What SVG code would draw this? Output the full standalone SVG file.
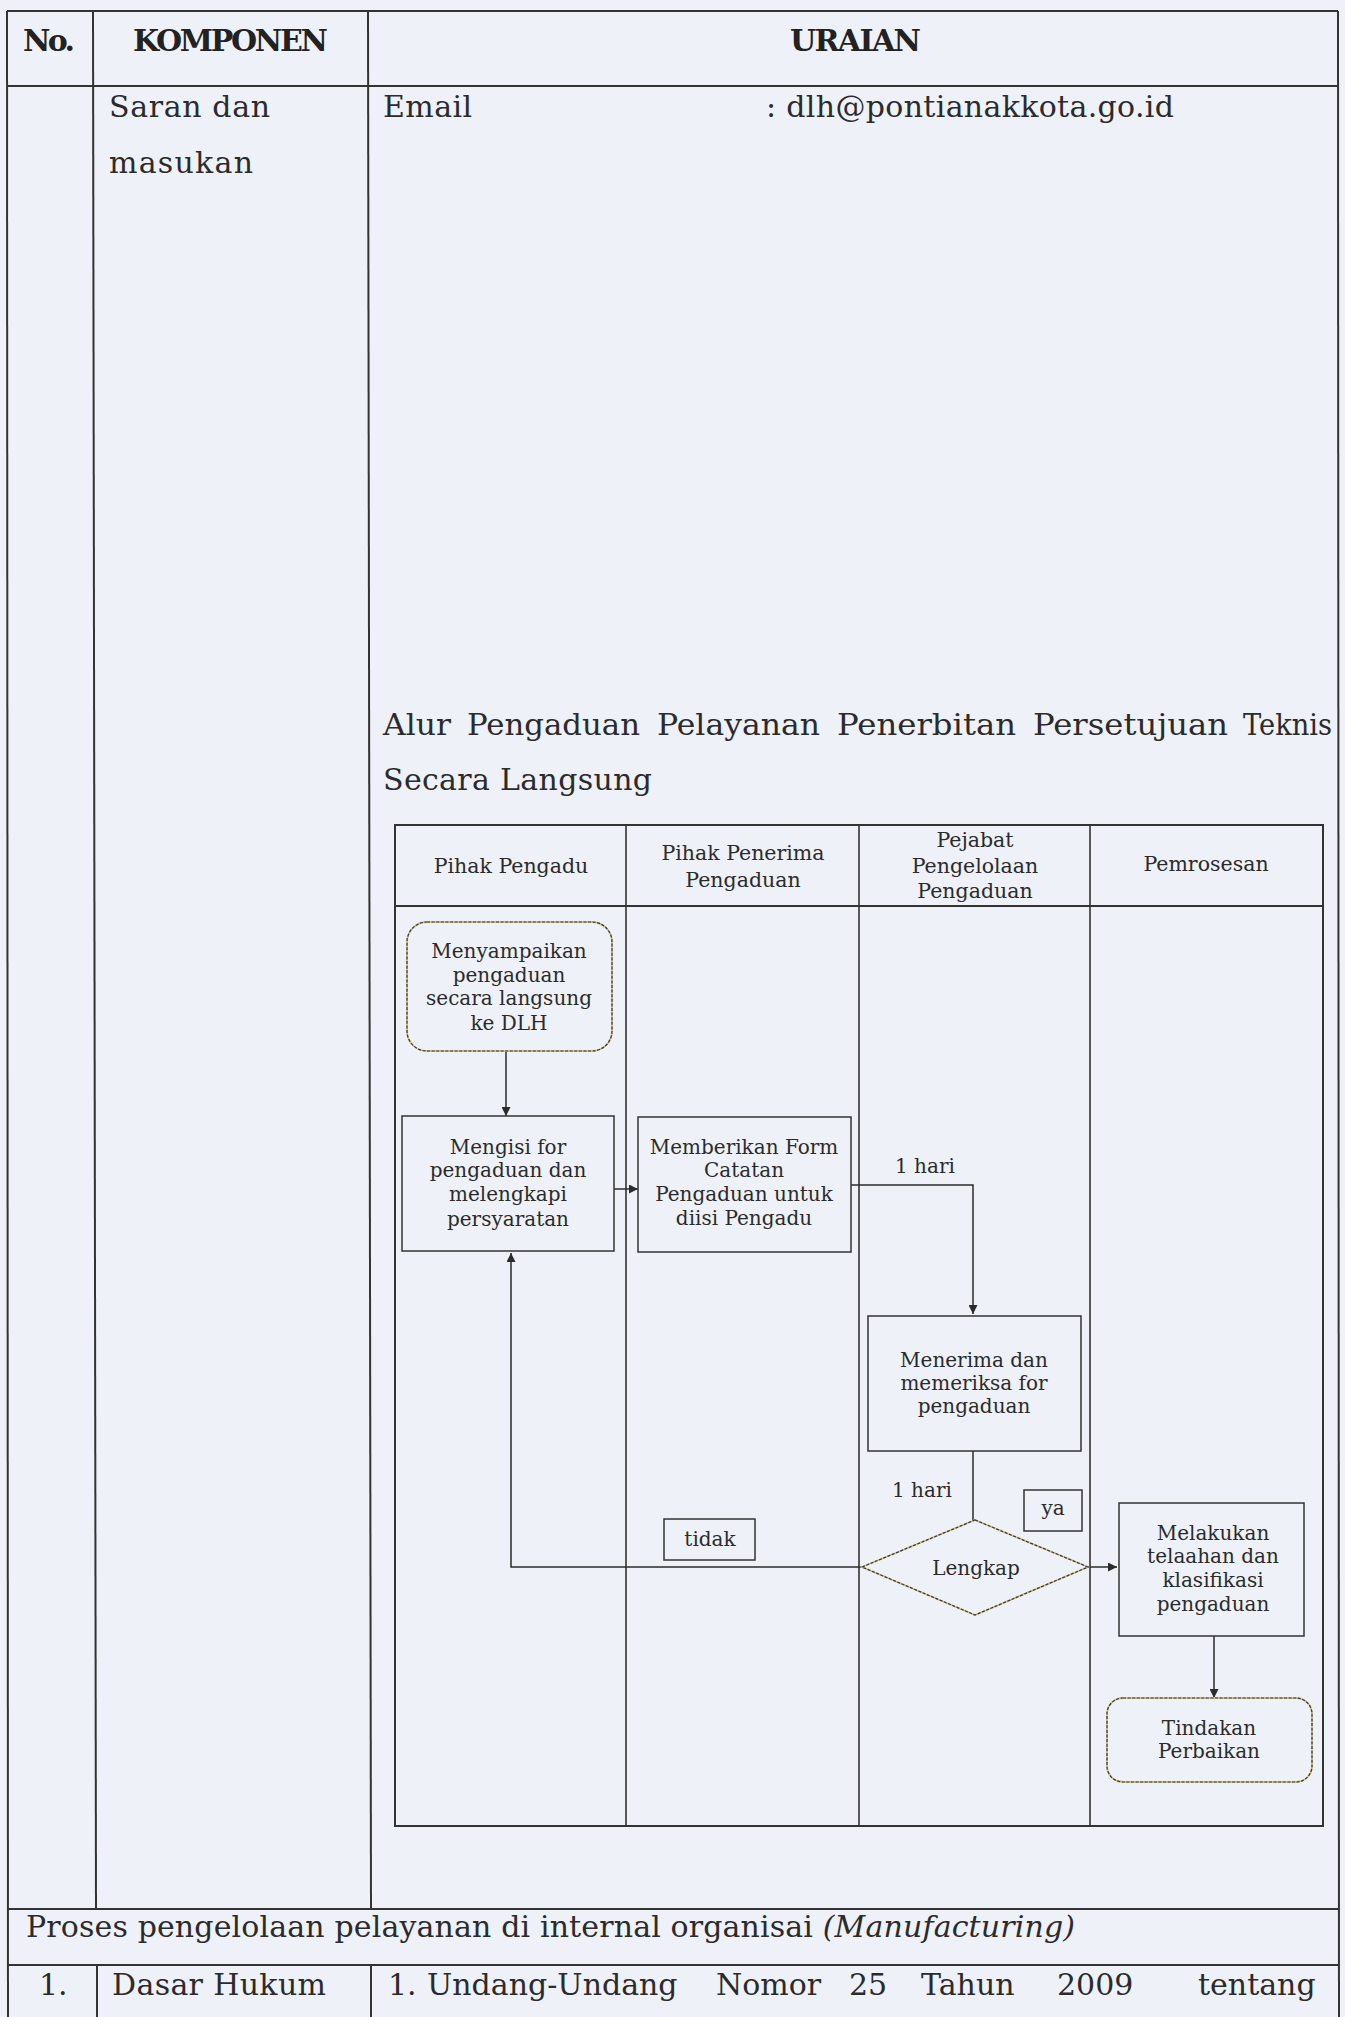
<svg xmlns="http://www.w3.org/2000/svg" width="1345" height="2017" viewBox="0 0 1345 2017">
  <defs>
    <marker id="arrow" viewBox="0 0 10 10" refX="10" refY="5" markerWidth="9" markerHeight="9" markerUnits="userSpaceOnUse" orient="auto">
      <path d="M0,0 L10,5 L0,10 z" fill="#2b2b2b"/>
    </marker>
    <style>
      .page { fill: #eef1f7; }
      .grid { stroke: #333; stroke-width: 2; fill: none; }
      .lane { stroke: #333; stroke-width: 1.6; fill: none; }
      .box { fill: none; stroke: #333; stroke-width: 1.5; }
      .soft-under { fill: none; stroke: #cdbd82; stroke-width: 1.8; }
      .soft-over { fill: none; stroke: #3a3a3a; stroke-width: 1.2; stroke-dasharray: 3 1.6; }
      .conn { fill: none; stroke: #2b2b2b; stroke-width: 1.5; }
      .head { font-family: "DejaVu Serif", "Liberation Serif", serif; font-weight: bold; font-size: 30px; fill: #222; }
      .body { font-family: "DejaVu Serif", "Liberation Serif", serif; font-size: 30px; fill: #2b2b2b; }
      .title-word { font-size: 29px; }
      .fc { font-family: "DejaVu Serif", "Liberation Serif", serif; font-size: 20px; fill: #2b2b2b; text-anchor: middle; }
      .lane-title { font-size: 20.5px; }
      .lbl { font-family: "DejaVu Serif", "Liberation Serif", serif; font-size: 20px; fill: #2b2b2b; }
    </style>
  </defs>

  <rect class="page" x="0" y="0" width="1345" height="2017"/>

  <!-- outer table grid -->
  <g id="table-grid">
    <line class="grid" x1="7" y1="11" x2="1338" y2="11"/>
    <line class="grid" x1="7" y1="86" x2="1338" y2="86"/>
    <line class="grid" x1="7" y1="1909" x2="1338" y2="1909"/>
    <line class="grid" x1="7" y1="1965" x2="1338" y2="1965"/>
    <line class="grid" x1="7" y1="11" x2="8" y2="2017"/>
    <line class="grid" x1="1338" y1="11" x2="1339" y2="2017"/>
    <line class="grid" x1="93" y1="11" x2="96" y2="1909"/>
    <line class="grid" x1="368" y1="11" x2="371" y2="1909"/>
    <line class="grid" x1="97" y1="1965" x2="97" y2="2017"/>
    <line class="grid" x1="371" y1="1965" x2="371" y2="2017"/>
  </g>

  <!-- header row -->
  <g id="header">
    <text class="head" x="23" y="51" textLength="52">No.</text>
    <text class="head" x="133" y="51" textLength="195">KOMPONEN</text>
    <text class="head" x="790" y="51" textLength="131">URAIAN</text>
  </g>

  <!-- row: Saran dan masukan -->
  <g id="row-saran">
    <text class="body" x="109" y="117" textLength="161">Saran dan</text>
    <text class="body" x="109" y="173" textLength="144">masukan</text>
    <text class="body" x="383" y="117" textLength="89">Email</text>
    <text class="body" x="766" y="117" textLength="408">: dlh@pontianakkota.go.id</text>
    <!-- justified title line, one word per run -->
    <text class="body title-word" x="383" y="735" textLength="68" lengthAdjust="spacingAndGlyphs">Alur</text>
    <text class="body title-word" x="467" y="735" textLength="173" lengthAdjust="spacingAndGlyphs">Pengaduan</text>
    <text class="body title-word" x="657" y="735" textLength="163" lengthAdjust="spacingAndGlyphs">Pelayanan</text>
    <text class="body title-word" x="837" y="735" textLength="179" lengthAdjust="spacingAndGlyphs">Penerbitan</text>
    <text class="body title-word" x="1033" y="735" textLength="195" lengthAdjust="spacingAndGlyphs">Persetujuan</text>
    <text class="body title-word" x="1243" y="735" textLength="89" lengthAdjust="spacingAndGlyphs">Teknis</text>
    <text class="body" x="383" y="790" textLength="269">Secara Langsung</text>
  </g>

  <!-- swimlane frame -->
  <g id="swimlanes">
    <rect class="grid" x="395" y="825" width="928" height="1001"/>
    <line class="grid" x1="395" y1="906" x2="1323" y2="906"/>
    <line class="lane" x1="626" y1="825" x2="626" y2="1826"/>
    <line class="lane" x1="859" y1="825" x2="859" y2="1826"/>
    <line class="lane" x1="1090" y1="825" x2="1090" y2="1826"/>
    <text class="fc lane-title" x="511" y="873">Pihak Pengadu</text>
    <text class="fc lane-title" x="743" y="860">Pihak Penerima</text>
    <text class="fc lane-title" x="743" y="887">Pengaduan</text>
    <text class="fc lane-title" x="975" y="847">Pejabat</text>
    <text class="fc lane-title" x="975" y="873">Pengelolaan</text>
    <text class="fc lane-title" x="975" y="898">Pengaduan</text>
    <text class="fc lane-title" x="1206" y="871">Pemrosesan</text>
  </g>

  <!-- connectors -->
  <g id="connectors">
    <line class="conn" x1="506" y1="1051" x2="506" y2="1116" marker-end="url(#arrow)"/>
    <line class="conn" x1="614" y1="1189" x2="638" y2="1189" marker-end="url(#arrow)"/>
    <path class="conn" d="M851,1185 H973 V1314" marker-end="url(#arrow)"/>
    <line class="conn" x1="973" y1="1451" x2="973" y2="1520"/>
    <line class="conn" x1="1088" y1="1567" x2="1117" y2="1567" marker-end="url(#arrow)"/>
    <path class="conn" d="M862,1567 H511 V1253" marker-end="url(#arrow)"/>
    <line class="conn" x1="1214" y1="1636" x2="1214" y2="1698" marker-end="url(#arrow)"/>
    <text class="lbl" x="895" y="1173">1 hari</text>
    <text class="lbl" x="892" y="1497">1 hari</text>
  </g>

  <!-- nodes -->
  <g id="start-menyampaikan">
    <rect class="soft-under" x="407" y="922" width="205" height="129" rx="20"/>
    <rect class="soft-over" x="407" y="922" width="205" height="129" rx="20"/>
    <text class="fc" x="509" y="958">Menyampaikan</text>
    <text class="fc" x="509" y="982">pengaduan</text>
    <text class="fc" x="509" y="1005">secara langsung</text>
    <text class="fc" x="509" y="1030">ke DLH</text>
  </g>

  <g id="mengisi">
    <rect class="box" x="402" y="1116" width="212" height="135"/>
    <text class="fc" x="508" y="1154">Mengisi for</text>
    <text class="fc" x="508" y="1177">pengaduan dan</text>
    <text class="fc" x="508" y="1201">melengkapi</text>
    <text class="fc" x="508" y="1226">persyaratan</text>
  </g>

  <g id="memberikan">
    <rect class="box" x="638" y="1117" width="213" height="135"/>
    <text class="fc" x="744" y="1154">Memberikan Form</text>
    <text class="fc" x="744" y="1177">Catatan</text>
    <text class="fc" x="744" y="1201">Pengaduan untuk</text>
    <text class="fc" x="744" y="1225">diisi Pengadu</text>
  </g>

  <g id="menerima">
    <rect class="box" x="868" y="1316" width="213" height="135"/>
    <text class="fc" x="974" y="1367">Menerima dan</text>
    <text class="fc" x="974" y="1390">memeriksa for</text>
    <text class="fc" x="974" y="1413">pengaduan</text>
  </g>

  <g id="lengkap">
    <polygon class="soft-under" points="975,1520 1088,1567 975,1615 862,1567"/>
    <polygon class="soft-over" points="975,1520 1088,1567 975,1615 862,1567"/>
    <text class="fc" x="976" y="1575">Lengkap</text>
  </g>

  <g id="label-ya">
    <rect class="box" x="1024" y="1490" width="58" height="41"/>
    <text class="fc" x="1053" y="1515">ya</text>
  </g>

  <g id="label-tidak">
    <rect class="box" x="664" y="1519" width="91" height="41"/>
    <text class="fc" x="710" y="1546">tidak</text>
  </g>

  <g id="melakukan">
    <rect class="box" x="1119" y="1503" width="185" height="133"/>
    <text class="fc" x="1213" y="1540">Melakukan</text>
    <text class="fc" x="1213" y="1563">telaahan dan</text>
    <text class="fc" x="1213" y="1587">klasifikasi</text>
    <text class="fc" x="1213" y="1611">pengaduan</text>
  </g>

  <g id="end-tindakan">
    <rect class="soft-under" x="1107" y="1698" width="205" height="84" rx="16"/>
    <rect class="soft-over" x="1107" y="1698" width="205" height="84" rx="16"/>
    <text class="fc" x="1209" y="1735">Tindakan</text>
    <text class="fc" x="1209" y="1758">Perbaikan</text>
  </g>

  <!-- section row and next row -->
  <g id="row-proses">
    <text class="body" x="26" y="1937" textLength="1049">Proses pengelolaan pelayanan di internal organisai <tspan font-style="italic">(Manufacturing)</tspan></text>
  </g>

  <g id="row-dasar-hukum">
    <text class="body" x="39" y="1995">1.</text>
    <text class="body" x="112" y="1995" textLength="214">Dasar Hukum</text>
    <text class="body" y="1995">
      <tspan x="388">1.</tspan>
      <tspan x="427">Undang-Undang</tspan>
      <tspan x="716">Nomor</tspan>
      <tspan x="849">25</tspan>
      <tspan x="921">Tahun</tspan>
      <tspan x="1057">2009</tspan>
      <tspan x="1198">tentang</tspan>
    </text>
  </g>
</svg>
